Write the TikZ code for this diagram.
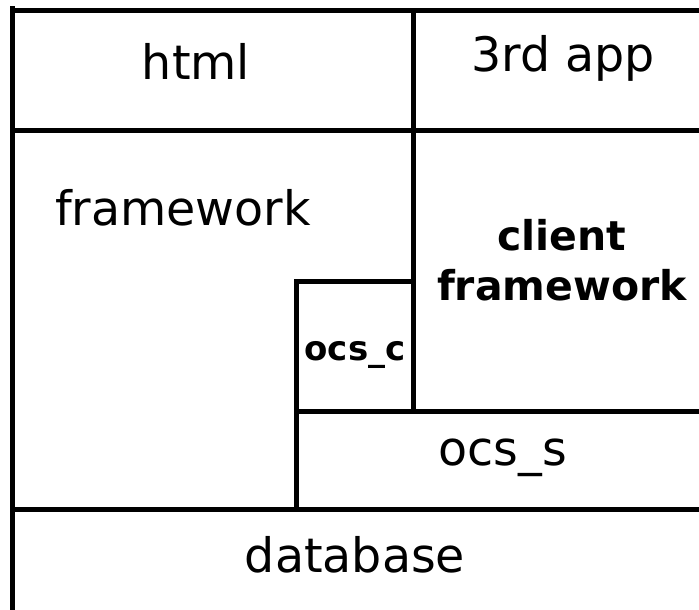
\documentclass[tikz,border=0pt]{standalone}
\usepackage{fontspec}
\setmainfont{DejaVu Sans}
\begin{document}
\begin{tikzpicture}[x=1pt,y=-1pt,
  wall/.style={line width=5pt,line cap=rect,black},
  lbl/.style={anchor=base,inner sep=0pt,font=\fontsize{47.5}{58}\selectfont},
  blbl/.style={anchor=base,inner sep=0pt,font=\bfseries\fontsize{41}{50}\selectfont,align=center}]
\useasboundingbox (0,0) rectangle (699,610);
% frame lines
\draw[wall] (12.5,9) -- (12.5,612);
\draw[wall] (12.5,11) -- (702,11);
\draw[wall] (12.5,130) -- (702,130);
\draw[wall] (413,11) -- (413,411);
\draw[wall] (296,281) -- (413,281);
\draw[wall] (296,281) -- (296,509);
\draw[wall] (296,411) -- (702,411);
\draw[wall] (12.5,509) -- (702,509);
% labels
\node[lbl] (html) at (196,80) {html};
\node[lbl] (app) at (563,72) {3rd app};
\node[lbl] (fw) at (183,225) {framework};
\node[blbl] (cl) at (562,250) {client};
\node[blbl] (cfw) at (562,300) {framework};
\node[anchor=base,inner sep=0pt,font=\bfseries\fontsize{34}{40}\selectfont] (ocsc) at (355,360) {ocs\_c};
\node[lbl] (ocss) at (503,465) {ocs\_s};
\node[lbl] (db) at (355,572) {database};
\end{tikzpicture}
\end{document}
